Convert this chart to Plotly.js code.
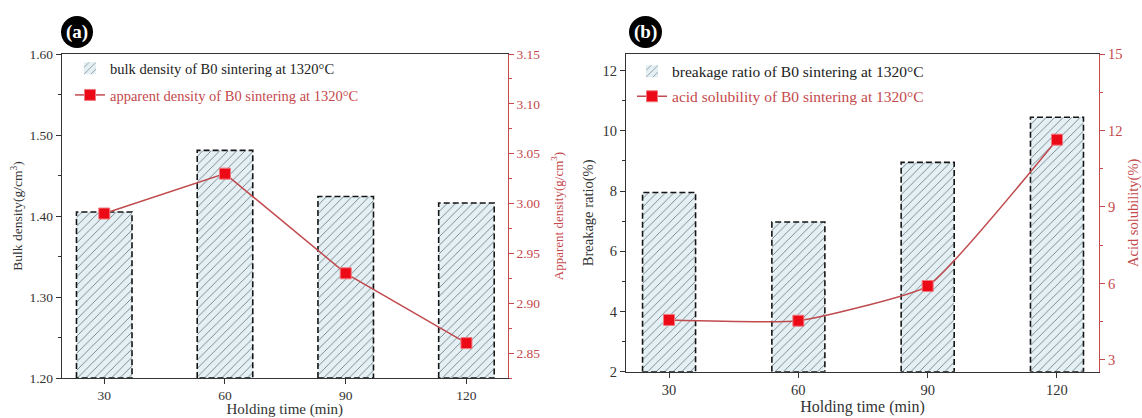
<!DOCTYPE html>
<html>
<head>
<meta charset="utf-8">
<script src="https://cdn.plot.ly/plotly-3.0.1.min.js"></script>
<style>html,body{margin:0;padding:0;background:#fff}#chart{width:1142px;height:418px}</style>
</head>
<body>
<div id="chart"></div>
<script>
// ---- data ----
const categories = ['30', '60', '90', '120'];
const bulkDensity = [1.405, 1.481, 1.424, 1.416];        // g/cm3, left axis (a)
const apparentDensity = [2.99, 3.03, 2.93, 2.86];       // g/cm3, right axis (a)
const breakageRatio = [7.95, 6.97, 8.95, 10.45];        // %, left axis (b)
const acidSolubility = [4.57, 4.54, 5.90, 11.64];       // %, right axis (b)

const nameBulk = 'bulk density of B0 sintering at 1320°C';
const nameApparent = 'apparent density of B0 sintering at 1320°C';
const nameBreak = 'breakage ratio of B0 sintering at 1320°C';
const nameAcid = 'acid solubility of B0 sintering at 1320°C';

// ---- styling ----
const W = 1142, H = 418;
const FONT = '"Liberation Serif", "Times New Roman", serif';
const DARK = '#333333';
const RED = '#c4494c';
const LINE_RED = '#c04a4e';
const MARK_RED = '#ec0a16';
const idx = categories.map((_, i) => i);
const yRangeA = [1.2, 1.6], y2RangeA = [2.825, 3.15];
const yRangeB = [2, 12.55], y2RangeB = [2.54, 15];
const barWA = 0.46, barWB = 0.41;

function outline(vals, w, base, xa, ya) {
  const xs = [], ys = [];
  vals.forEach((v, i) => {
    xs.push(i - w / 2, i - w / 2, i + w / 2, i + w / 2, i - w / 2, null);
    ys.push(base, v, v, base, base, null);
  });
  return {x: xs, y: ys, xaxis: xa, yaxis: ya, type: 'scatter', mode: 'lines',
    line: {color: '#151515', width: 1.6, dash: '6px,3px'}, showlegend: false, hoverinfo: 'skip'};
}
const pattern = {shape: '/', fillmode: 'replace', fgcolor: '#6a7982', bgcolor: '#e4f0f4', size: 6, solidity: 0.14};

const traces = [
  {x: idx, y: bulkDensity, type: 'bar', width: barWA, xaxis: 'x', yaxis: 'y', name: nameBulk,
   marker: {color: '#e4f0f4', pattern: pattern, line: {width: 0}}, legend: 'legend'},
  outline(bulkDensity, barWA, yRangeA[0], 'x', 'y'),
  {x: idx, y: apparentDensity, type: 'scatter', mode: 'lines+markers', xaxis: 'x', yaxis: 'y2', name: nameApparent,
   line: {color: LINE_RED, width: 1.5}, marker: {symbol: 'square', size: 11, color: MARK_RED, line: {color: '#f07a80', width: 1}},
   legend: 'legend2'},
  {x: idx, y: breakageRatio, type: 'bar', width: barWB, xaxis: 'x2', yaxis: 'y3', name: nameBreak,
   marker: {color: '#e4f0f4', pattern: pattern, line: {width: 0}}, legend: 'legend3'},
  outline(breakageRatio, barWB, yRangeB[0], 'x2', 'y3'),
  {x: idx, y: acidSolubility, type: 'scatter', mode: 'lines+markers', xaxis: 'x2', yaxis: 'y4', name: nameAcid,
   line: {color: LINE_RED, width: 1.5, shape: 'spline', smoothing: 0.4},
   marker: {symbol: 'square', size: 11, color: MARK_RED, line: {color: '#f07a80', width: 1}},
   legend: 'legend4'}
];

const px = v => v / W, py = v => 1 - v / H;

function xaxisDef(domain, range, size, tsize, anchor, standoff) {
  return {domain: domain, range: range, anchor: anchor, tickvals: idx, ticktext: categories,
    showline: true, linecolor: DARK, linewidth: 1.2, mirror: true, showgrid: false, zeroline: false,
    ticks: 'outside', ticklen: 5, tickcolor: DARK, tickfont: {family: FONT, size: size, color: '#333'},
    title: {text: 'Holding time (min)', font: {family: FONT, size: tsize, color: '#333'}, standoff: standoff}};
}
function yLeft(domain, range, dtick, fmt, minor, size, tsize, anchor, title, standoff) {
  return {domain: domain, range: range, anchor: anchor, dtick: dtick, tick0: range[0], tickformat: fmt,
    showline: true, linecolor: DARK, linewidth: 1.2, showgrid: false, zeroline: false,
    ticks: 'outside', ticklen: 5, tickcolor: DARK, minor: {dtick: minor, ticks: 'outside', ticklen: 3, tickcolor: DARK, showgrid: false},
    tickfont: {family: FONT, size: size, color: '#333'},
    title: {text: title, font: {family: FONT, size: tsize, color: '#333'}, standoff: standoff}};
}
function yRight(range, tick0, dtick, fmt, minor, size, tsize, anchor, overlay, title, standoff) {
  return {range: range, anchor: anchor, overlaying: overlay, side: 'right', tick0: tick0, dtick: dtick, tickformat: fmt,
    showline: true, linecolor: RED, linewidth: 1.2, showgrid: false, zeroline: false,
    ticks: 'outside', ticklen: 5, tickcolor: RED,
    minor: {dtick: minor, tick0: tick0, ticks: 'outside', ticklen: 3, tickcolor: RED, showgrid: false},
    tickfont: {family: FONT, size: size, color: RED},
    title: {text: title, font: {family: FONT, size: tsize, color: RED}, standoff: standoff}};
}
function legendDef(x, y, color, size) {
  return {x: x, y: y, xanchor: 'left', yanchor: 'middle', bgcolor: 'rgba(0,0,0,0)', borderwidth: 0,
    itemwidth: 30, font: {family: FONT, size: size, color: color}};
}

const layout = {
  width: W, height: H, margin: {l: 0, r: 0, t: 0, b: 0},
  paper_bgcolor: '#fff', plot_bgcolor: '#fff', barmode: 'overlay',
  xaxis: xaxisDef([px(62), px(507.5)], [-0.35, 3.34], 13.5, 15, 'y', 2),
  yaxis: yLeft([1 - 378 / H, 1 - 54 / H], yRangeA, 0.1, '.2f', 0.05, 13.5, 13.5, 'x', 'Bulk density(g/cm<sup>3</sup>)', 3),
  yaxis2: yRight(y2RangeA, 2.85, 0.05, '.2f', 0.025, 13.5, 13, 'x', 'y', 'Apparent density(g/cm<sup>3</sup>)', 14),
  xaxis2: xaxisDef([px(626), px(1099)], [-0.333, 3.325], 14.5, 16, 'y3', 1),
  yaxis3: yLeft([1 - 371.7 / H, 1 - 54 / H], yRangeB, 2, 'd', 1, 14.5, 14.5, 'x2', 'Breakage ratio(%)', 5),
  yaxis4: yRight(y2RangeB, 3, 3, 'd', 1.5, 14.5, 14.5, 'x2', 'y3', 'Acid solubility(%)', 6),
  legend: legendDef(px(70), py(68.3), '#222', 14.5),
  legend2: legendDef(px(70), py(95), RED, 14.5),
  legend3: legendDef(px(632), py(71.7), '#222', 15.5),
  legend4: legendDef(px(632), py(96.7), RED, 15.5),
  shapes: [
    {type: 'circle', layer: 'below', xref: 'paper', yref: 'paper', x0: px(61), x1: px(93), y0: py(48), y1: py(16), fillcolor: '#000', line: {width: 0}},
    {type: 'circle', layer: 'below', xref: 'paper', yref: 'paper', x0: px(629), x1: px(662), y0: py(48), y1: py(16), fillcolor: '#000', line: {width: 0}}
  ],
  annotations: [
    {xref: 'paper', yref: 'paper', x: px(77), y: py(32), xanchor: 'center', yanchor: 'middle', text: '<b>(a)</b>', showarrow: false, font: {family: FONT, size: 19, color: '#fff'}},
    {xref: 'paper', yref: 'paper', x: px(645.5), y: py(32), xanchor: 'center', yanchor: 'middle', text: '<b>(b)</b>', showarrow: false, font: {family: FONT, size: 19, color: '#fff'}}
  ]
};

Plotly.newPlot('chart', traces, layout, {displayModeBar: false, staticPlot: true});
</script>
</body>
</html>
